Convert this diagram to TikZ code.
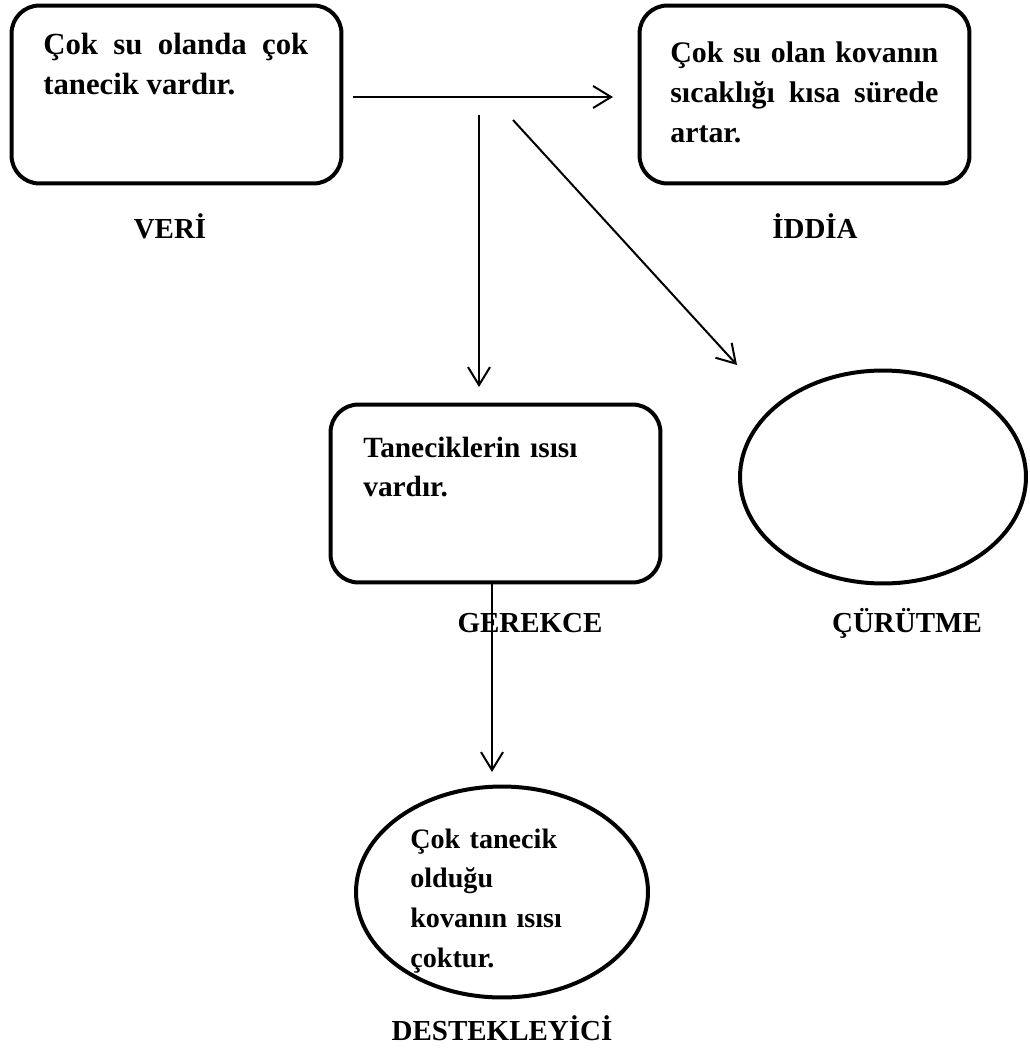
\documentclass[tikz,border=0pt]{standalone}
\usepackage{fontspec}
\setmainfont{Liberation Serif}
\usetikzlibrary{shapes.geometric,arrows.meta}

\tikzset{
  kutu/.style={draw, line width=0.08cm, rounded corners=0.56cm,
    minimum width=6.6cm, minimum height=3.56cm, inner sep=0pt},
  halka/.style={draw, ellipse, line width=0.08cm, inner sep=0pt},
  metin/.style={font={\bfseries\fontsize{#1}{22.6pt}\selectfont},
    inner sep=0pt, anchor=base west},
  metin/.default=16pt,
  etiket/.style={font={\bfseries\fontsize{16.5pt}{20pt}\selectfont},
    inner sep=0pt, anchor=base},
  ok/.style={line width=0.04cm,
    -{Straight Barb[length=0.36cm, width=0.44cm, line width=0.04cm]}},
}

\begin{document}
\begin{tikzpicture}[x=0.02cm, y=-0.02cm]
  \useasboundingbox (0,0) rectangle (1030,1051);
  % kutular ve halkalar
  \node[kutu] (veri) at (176.5,94.5) {};
  \node[kutu] (iddia) at (804.5,94.5) {};
  \node[kutu] (gerekce) at (495.5,493.5) {};
  \node[halka, minimum width=5.72cm, minimum height=4.26cm]
    (curutme) at (883,477) {};
  \node[halka, minimum width=5.84cm, minimum height=4.22cm]
    (destek) at (502,892) {};
  % metinler
  \node[metin=17.5pt, text width=5.3cm, align=justify] (veri metin) at (43,55)
    {Çok su olanda çok tanecik vardır.};
  \node[metin=17pt, text width=5.36cm, align=justify] (iddia metin) at (670,63)
    {Çok su olan kovanın sıcaklığı kısa sürede artar.};
  \node[metin=16.7pt, text width=5.4cm, align=left] (gerekce metin) at (363,457)
    {Taneciklerin ısısı\\vardır.};
  \node[metin, text width=4.2cm, align=left] (destek metin) at (410,848)
    {Çok tanecik\\olduğu\\kovanın ısısı\\çoktur.};
  % etiketler
  \node[etiket] (veri etiket) at (170,238) {VERİ};
  \node[etiket] (iddia etiket) at (815,238) {İDDİA};
  \node[etiket] (gerekce etiket) at (530,632) {GEREKCE};
  \node[etiket] (curutme etiket) at (907,632) {ÇÜRÜTME};
  \node[etiket] (destek etiket) at (502,1040) {DESTEKLEYİCİ};
  % oklar
  \coordinate (ok1 bas) at (353,97);
  \coordinate (ok1 uc) at (613,97);
  \coordinate (ok2 bas) at (479,115);
  \coordinate (ok2 uc) at (479,387);
  \coordinate (ok3 bas) at (513,120);
  \coordinate (ok3 uc) at (737,365);
  \coordinate (ok4 uc) at (492,772);
  \draw[ok] (ok1 bas) -- (ok1 uc);
  \draw[ok] (ok2 bas) -- (ok2 uc);
  \draw[ok] (ok3 bas) -- (ok3 uc);
  \draw[ok] (gerekce.south -| ok4 uc) -- (ok4 uc);
\end{tikzpicture}
\end{document}
